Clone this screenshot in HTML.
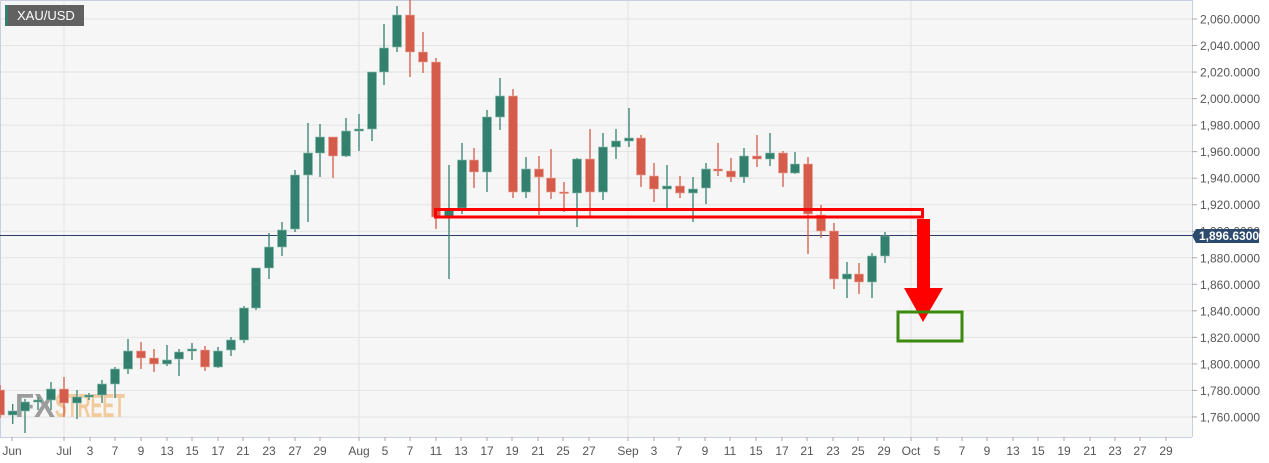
<!DOCTYPE html>
<html><head><meta charset="utf-8"><style>
html,body{margin:0;padding:0;background:#fff;width:1269px;height:463px;overflow:hidden}
svg{display:block;font-family:"Liberation Sans",sans-serif}
</style></head><body>
<svg id="c" width="1269" height="463" xmlns="http://www.w3.org/2000/svg">
<rect x="0" y="0" width="1192" height="437" fill="#f6f6f6"/>
<g id="grid"></g>
<line x1="0.5" y1="0" x2="0.5" y2="437" stroke="#c9cee0"/>
<line x1="0" y1="0.5" x2="1192" y2="0.5" stroke="#c9cee0"/>
<line x1="1192.5" y1="0" x2="1192.5" y2="437" stroke="#c9cee0"/>
<line x1="0" y1="437.5" x2="1192" y2="437.5" stroke="#c9cee0"/>
<g id="axes"></g>
<text x="15" y="417" font-size="33" font-weight="bold" fill="#8d8d8d" opacity="0.85" textLength="40" lengthAdjust="spacingAndGlyphs">FX</text>
<text x="55" y="417" font-size="33" font-weight="bold" fill="#f1c48c" opacity="0.85" textLength="70" lengthAdjust="spacingAndGlyphs">STREET</text>
<line x1="0" y1="235.5" x2="1192" y2="235.5" stroke="#2c3e66" stroke-width="1"/>
<g id="candles"></g>
<rect x="435.5" y="209.5" width="487" height="7.5" fill="none" stroke="#ff0000" stroke-width="3"/>
<rect x="917" y="219" width="13" height="70" fill="#ff0000"/>
<polygon points="904,288 943,288 923,322" fill="#ff0000"/>
<rect x="898" y="312" width="64" height="29" fill="none" stroke="#3a8a10" stroke-width="3"/>
<rect x="5" y="5" width="79" height="21" fill="#616161"/>
<rect x="5" y="5" width="3" height="21" fill="#33806f"/>
<text x="17" y="20" font-size="13" fill="#fff">XAU/USD</text>
<polygon points="1192,235.5 1196,229 1259,229 1259,243 1196,243" fill="#2c4a6e"/>
<text x="1199" y="240" font-size="12" font-weight="bold" fill="#fff">1,896.6300</text>
</svg>
<script>
const NS="http://www.w3.org/2000/svg";
function el(p,t,a,txt){const e=document.createElementNS(NS,t);for(const k in a)e.setAttribute(k,a[k]);if(txt)e.textContent=txt;p.appendChild(e);return e;}
const grid=document.getElementById('grid'),axes=document.getElementById('axes'),cg=document.getElementById('candles');
for(let k=0;k<16;k++){const p=2060-20*k;const y=19+k*26.53;
 el(grid,'line',{x1:0,x2:1192,y1:y,y2:y,stroke:'#e3e3e3','stroke-width':1});
 el(axes,'line',{x1:1192,x2:1197,y1:y,y2:y,stroke:'#aaa'});
 el(axes,'text',{x:1200,y:y+4.5,'font-size':12,fill:'#555'},p.toLocaleString('en-US')+'.0000');}
[64,359,628,911].forEach(x=>el(grid,'line',{x1:x,x2:x,y1:0,y2:437,stroke:'#e3e3e3'}));
const labs=[[12,'Jun'],[64,'Jul'],[90,'3'],[115,'7'],[141,'9'],[167,'13'],[192,'15'],[218,'17'],[243,'21'],[269,'23'],[295,'27'],[320,'29'],[359,'Aug'],[385,'5'],[410,'7'],[436,'11'],[461,'13'],[487,'17'],[512,'19'],[538,'21'],[563,'25'],[589,'27'],[628,'Sep'],[654,'3'],[679,'7'],[705,'9'],[730,'11'],[756,'15'],[782,'17'],[807,'21'],[833,'23'],[858,'25'],[884,'29'],[911,'Oct'],[937,'5'],[962,'7'],[987,'9'],[1013,'13'],[1038,'15'],[1064,'19'],[1090,'21'],[1115,'23'],[1140,'27'],[1166,'29']];
labs.forEach(([x,t])=>{el(axes,'line',{x1:x,x2:x,y1:437,y2:441,stroke:'#aaa'});el(axes,'text',{x:x,y:455,'font-size':12,fill:'#555','text-anchor':'middle'},t);});
// x, open, close, high, low (pixel y)
const C=[[0,390,415,385,418],[12.7,415,411,404,424],[25,411,402,399,433],[38,402,400,397,410],[51,400,389,382,410],[64,389,403,377,417],[77,403,397,390,419],[89,397,395,393,400],[102,395,384,380,403],[115,384,369,367,398],[128,369,351,339,374],[141,351,358,342,369],[154,358,364,349,372],[167,364,360,345,366],[179,359,352,349,376],[192,351,349,343,360],[205,350,367,346,371],[218,367,351,347,368],[231,350,340,337,356],[244,340,308,306,343],[256,308,268,268,310],[269,268,247,233,279],[282,247,230,222,256],[295,229,175,170,232],[308,175,153,123,222],[320,153,137,124,177],[333,137,156,137,178],[346,156,131,118,157],[359,131,129,114,151],[372,129,72,72,141],[384,72,48,24,85],[397,47,15,6,52],[410,15,52,0,77],[423,52,62,32,73],[436,62,217,58,229],[449,216,210,165,279],[462,208,160,143,214],[474,160,172,148,188],[487,172,117,110,192],[500,117,96,78,130],[513,96,192,89,198],[526,192,169,157,198],[539,169,177,156,215],[551,178,192,149,199],[564,192,193,182,212],[577,193,159,158,227],[590,159,192,129,216],[603,192,147,133,200],[616,147,141,129,159],[629,141,138,108,147],[641,138,175,135,187],[654,176,189,163,202],[667,189,186,165,208],[680,186,193,176,198],[693,193,189,177,222],[706,188,169,163,204],[718,169,171,143,176],[731,171,177,158,182],[744,177,156,148,183],[757,156,159,135,167],[770,159,153,133,166],[783,153,173,151,187],[795,173,164,152,174],[808,164,214,157,254],[821,215,231,205,238],[834,231,279,223,289],[847,279,274,262,298],[859,274,282,263,294],[872,282,256,253,298],[885,256,236,232,263]];
C.forEach(([x,o,c,h,l])=>{const up=c<=o;const col=up?'#33806f':'#d55b4a';
 el(cg,'line',{x1:x,x2:x,y1:h,y2:l,stroke:col,'stroke-width':1.3});
 const t=Math.min(o,c),b=Math.max(o,c);
 el(cg,'rect',{x:x-4.5,y:t,width:9,height:Math.max(1.5,b-t),fill:col,stroke:up?'#8cbcb0':'#eaa79c','stroke-width':0.6});});
</script>
</body></html>
